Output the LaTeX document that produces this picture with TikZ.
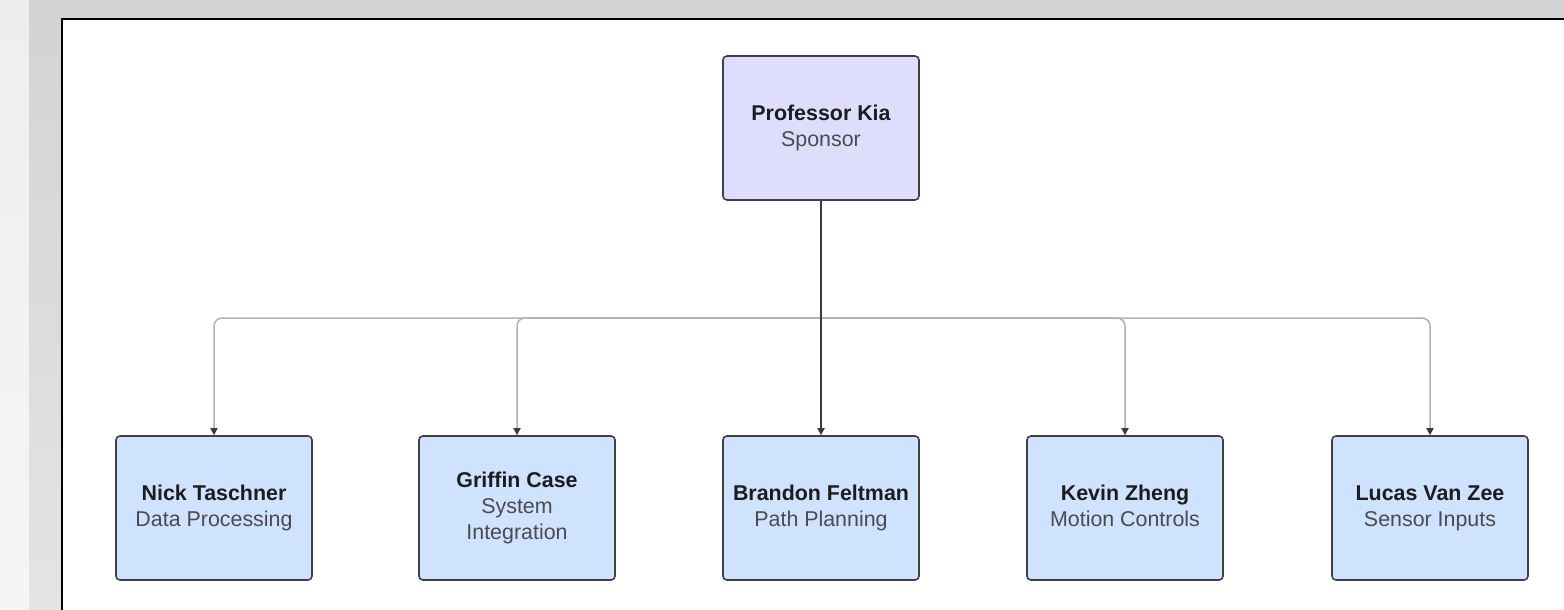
\documentclass[tikz,border=0pt]{standalone}
\usepackage{fontspec}
\setmainfont{Liberation Sans}
\usepackage{tikz}
\usetikzlibrary{arrows.meta}
\definecolor{sidelight}{HTML}{EEEEEE}
\definecolor{sidelightlow}{HTML}{F5F5F5}
\definecolor{sidegray}{HTML}{D3D3D3}
\definecolor{sidegraylow}{HTML}{E4E4E4}
\definecolor{sponsorfill}{HTML}{DEDEFC}
\definecolor{memberfill}{HTML}{CFE3FE}
\definecolor{boxline}{HTML}{404040}
\definecolor{namecol}{HTML}{1C1C1E}
\definecolor{rolecol}{HTML}{4A4A50}
\definecolor{branchcol}{HTML}{B2B2B2}
\definecolor{trunkcol}{HTML}{3A3A3A}
\tikzset{x=0.5pt, y=-0.5pt,
    orgbox/.style={draw=boxline, line width=0.8pt, rounded corners=2pt,
        minimum width=98pt, minimum height=72pt, inner sep=0pt,
        align=center, text=rolecol, font=\fontsize{10.7pt}{13pt}\selectfont},
    sponsorbox/.style={orgbox, fill=sponsorfill},
    memberbox/.style={orgbox, fill=memberfill},
    branch/.style={draw=branchcol, line width=0.75pt, rounded corners=4pt,
        -{Triangle[length=3.5pt,width=3.5pt,color=trunkcol]}},
    trunk/.style={draw=trunkcol, line width=1pt,
        -{Triangle[length=3.5pt,width=3.5pt]}}
    }
\def\Member#1#2#3#4{%
  \node[memberbox] (#1) at (#2,508) {{\bfseries\color{namecol}\strut#3}\\#4\strut};
}
\begin{document}
\begin{tikzpicture}
\useasboundingbox (0,0) rectangle (1564,610);
% page around the panel
\shade[top color=sidelight, bottom color=sidelightlow] (0,0) rectangle (29,610);
\shade[top color=sidegray, bottom color=sidegraylow] (29,0) rectangle (62,610);
\fill[sidegray] (29,0) rectangle (1564,19);
\fill[white] (62,19) rectangle (1564,610);
\draw[line width=1.1pt] (62,610) -- (62,19) -- (1564,19);
% people
\node[sponsorbox] (kia) at (821,128) {{\bfseries\color{namecol}\strut Professor Kia}\\Sponsor\strut};
\Member{nick}{214}{Nick Taschner}{Data Processing}
\Member{griffin}{517}{Griffin Case}{System\\Integration}
\Member{brandon}{821}{Brandon Feltman}{Path Planning}
\Member{kevin}{1125}{Kevin Zheng}{Motion Controls}
\Member{lucas}{1430}{Lucas Van Zee}{Sensor Inputs}
% connectors
\coordinate (fork) at (821,318);
\foreach \m in {nick,griffin,kevin,lucas}
  \draw[branch] (fork) -| (\m.north);
\draw[trunk] (kia.south) -- (brandon.north);
\end{tikzpicture}
\end{document}
